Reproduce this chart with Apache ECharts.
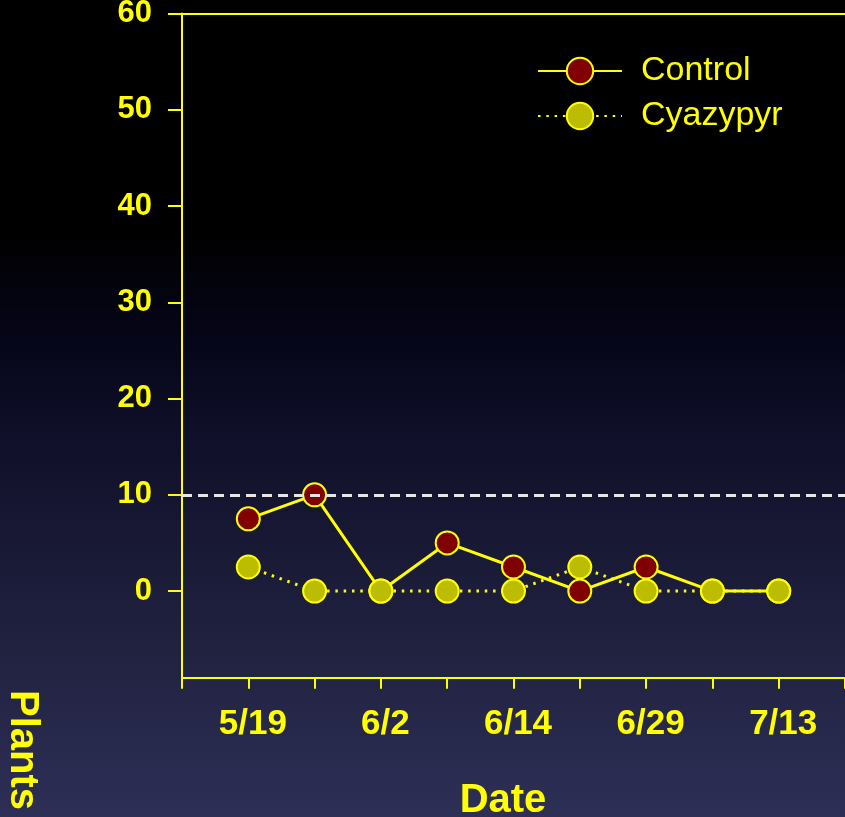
<!DOCTYPE html>
<html>
<head>
<meta charset="utf-8">
<script src="https://cdn.jsdelivr.net/npm/echarts@6/dist/echarts.min.js"></script>
<style>
  html, body { margin: 0; padding: 0; background: #000; }
  #chart { width: 845px; height: 817px; }
</style>
</head>
<body>
<div id="chart"></div>
<script>
const tickLabels = ["", "5/19", "", "6/2", "", "6/14", "", "6/29", "", "7/13", ""];
const controlValues = [7.5, 10, 0, 5, 2.5, 0, 2.5, 0, 0];
const cyazypyrValues = [2.5, 0, 0, 0, 0, 2.5, 0, 0, 0];
const yTicks = [0, 10, 20, 30, 40, 50, 60];
const threshold = 10;

const yellow = "#ffff00";
const font = "'Liberation Sans', Arial, sans-serif";

function points(values) {
  return values.map((v, i) => [i + 1, v]);
}

const chart = echarts.init(document.getElementById("chart"));
chart.setOption({
  animation: false,
  backgroundColor: {
    type: "linear", x: 0, y: 0, x2: 0, y2: 1,
    colorStops: [
      { offset: 0, color: "#000000" },
      { offset: 0.28, color: "#000000" },
      { offset: 0.42, color: "#06061a" },
      { offset: 0.54, color: "#10102a" },
      { offset: 0.78, color: "#20213f" },
      { offset: 1, color: "#2d2f56" }
    ]
  },
  grid: { left: 182, right: 0, top: 13.5, bottom: 139.3, outerBoundsMode: "none" },
  legend: {
    orient: "vertical",
    left: 532,
    top: 49,
    itemWidth: 84,
    itemHeight: 33,
    itemGap: 11,
    textStyle: { color: yellow, fontSize: 34, fontFamily: font, padding: [0, 0, 0, 14] },
    data: ["Control", "Cyazypyr"]
  },
  xAxis: [{
    type: "value",
    min: 0,
    max: 10,
    interval: 1,
    name: "Date",
    nameLocation: "middle",
    nameGap: 103,
    nameTextStyle: { color: yellow, fontSize: 40, fontWeight: "bold", fontFamily: font, padding: [0, 21, 0, 0] },
    axisLine: { onZero: false, lineStyle: { color: yellow, width: 2 } },
    axisTick: { show: true, length: 11, lineStyle: { color: yellow, width: 2 } },
    axisLabel: {
      color: yellow, fontSize: 35, fontWeight: "bold", fontFamily: font, margin: 29,
      padding: [0, 0, 0, 9],
      showMinLabel: true, showMaxLabel: true,
      formatter: (v) => tickLabels[v] || ""
    },
    splitLine: { show: false }
  }, {
    type: "value",
    position: "top",
    min: 0,
    max: 10,
    axisLine: { show: true, onZero: false, lineStyle: { color: yellow, width: 2 } },
    axisTick: { show: false },
    axisLabel: { show: false },
    splitLine: { show: false }
  }],
  yAxis: {
    type: "value",
    min: -9,
    max: 60,
    axisLine: { show: true, lineStyle: { color: yellow, width: 2 } },
    axisTick: { show: true, length: 14, customValues: yTicks, lineStyle: { color: yellow, width: 2 } },
    axisLabel: { color: yellow, fontSize: 31, fontWeight: "bold", fontFamily: font, margin: 30, customValues: yTicks },
    splitLine: { show: false }
  },
  graphic: [{
    type: "text",
    x: 22,
    y: 690,
    rotation: -Math.PI / 2,
    style: {
      text: "Plants",
      fill: yellow,
      font: "bold 40px " + font,
      textAlign: "left",
      textVerticalAlign: "middle"
    }
  }],
  series: [{
    name: "Control",
    type: "line",
    data: points(controlValues),
    symbol: "circle",
    symbolSize: 23,
    lineStyle: { color: yellow, width: 3 },
    itemStyle: { color: "#800000", borderColor: yellow, borderWidth: 2 },
    z: 2
  }, {
    name: "Cyazypyr",
    type: "line",
    data: points(cyazypyrValues),
    symbol: "circle",
    symbolSize: 23,
    lineStyle: { color: yellow, width: 3, type: [2.5, 5.8] },
    itemStyle: { color: "#bcbc00", borderColor: yellow, borderWidth: 2 },
    z: 3,
    markLine: {
      silent: true,
      symbol: "none",
      label: { show: false },
      lineStyle: { color: "#e6e6e6", width: 3, type: [10, 6] },
      data: [{ yAxis: threshold }],
      z: 5
    }
  }]
});
</script>
</body>
</html>
